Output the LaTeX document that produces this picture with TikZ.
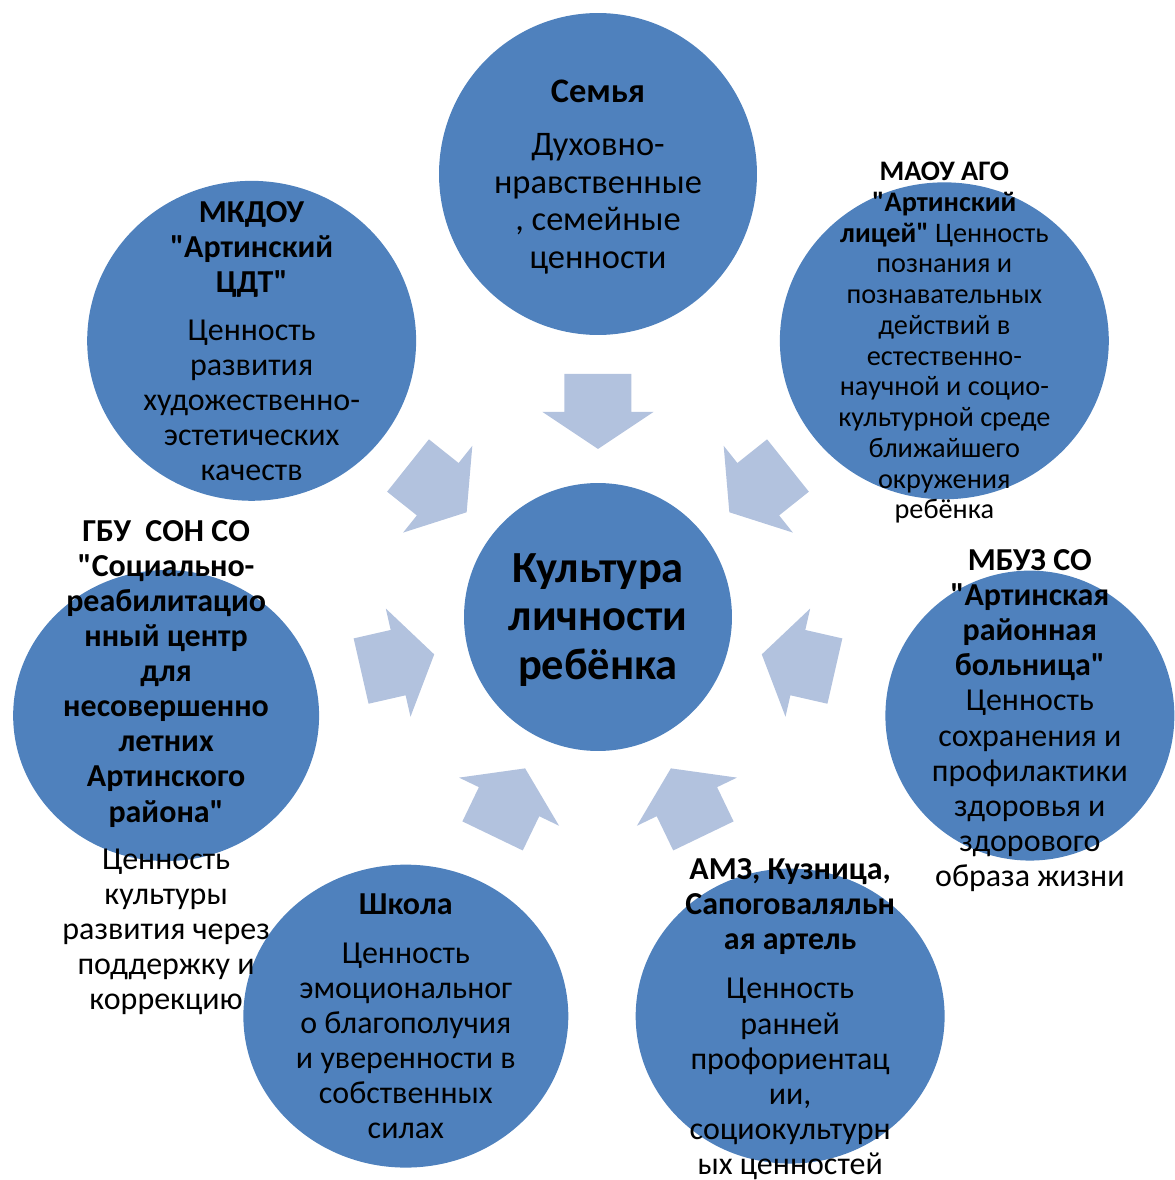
\documentclass[tikz,border=0pt]{standalone}
\usepackage{fontspec}
\setmainfont{Carlito}[Ligatures=TeXOff]
\usetikzlibrary{shapes.geometric}
\definecolor{bubblefill}{RGB}{79,129,189}
\definecolor{flowfill}{RGB}{178,194,222}
\tikzset{
  bubble/.style={ellipse, fill=bubblefill, inner sep=0pt},
  flow/.style={fill=flowfill},
  lbl/.style={align=center, inner sep=0pt, text=black},
  big/.style={font=\fontsize{18.2}{19.95}\selectfont},
}

\begin{document}
\begin{tikzpicture}[x=0.02cm, y=0.02cm]
\useasboundingbox (-598,-563) rectangle (577,617);

\foreach \a in {90, 141.43, 192.86, 244.29, 295.71, 347.14, 398.57}
  \fill[flow, rotate=\a] (243,-33.5) -- (205,-33.5) -- (205,-55.5) -- (168,0)
    -- (205,55.5) -- (205,33.5) -- (243,33.5) -- cycle;

\node[bubble, minimum width=5.36cm, minimum height=5.36cm] (core) at (0,0) {};
\node[bubble, minimum width=6.36cm, minimum height=6.44cm] (semya) at (90:443) {};
\node[bubble, minimum width=6.58cm, minimum height=6.40cm] (cdt) at (141.43:443) {};
\node[bubble, minimum width=6.12cm, minimum height=5.82cm] (centr) at (192.86:443) {};
\node[bubble, minimum width=6.50cm, minimum height=6.06cm] (shkola) at (244.29:443) {};
\node[bubble, minimum width=6.18cm, minimum height=5.90cm] (artel) at (295.71:443) {};
\node[bubble, minimum width=5.78cm, minimum height=5.80cm] (bolnica) at (347.14:443) {};
\node[bubble, minimum width=6.58cm, minimum height=6.34cm] (licej) at (38.57:443) {};

\node[lbl, font=\fontsize{25.3}{27.5}\selectfont\bfseries, yshift=-0.06cm] (coretxt) at (core)
  {Культура\\личности\\ребёнка};

\node[lbl, font=\fontsize{19.6}{21.4}\selectfont, yshift=-0.06cm] (semyatxt) at (semya)
  {\textbf{Семья}\\[9pt] Духовно-\\нравственные\\, семейные\\ценности};

\node[lbl, big] (cdttxt) at (cdt)
  {\textbf{МКДОУ}\\\textbf{"Артинский}\\\textbf{ЦДТ"}\\[7.4pt]
   Ценность\\развития\\художественно-\\эстетических\\качеств};

\node[lbl, font=\fontsize{16.1}{17.5}\selectfont, yshift=-0.04cm] (licejtxt) at (licej)
  {\textbf{МАОУ АГО}\\\textbf{"Артинский}\\\textbf{лицей"} Ценность\\познания и\\познавательных\\
   действий в\\естественно-\\научной и социо-\\культурной среде\\ближайшего\\окружения\\ребёнка};

\node[lbl, big, yshift=-0.1cm] (bolnicatxt) at (bolnica)
  {\textbf{МБУЗ СО}\\\textbf{"Артинская}\\\textbf{районная}\\\textbf{больница"}\\
   Ценность\\сохранения и\\профилактики\\здоровья и\\здорового\\образа жизни};

\node[lbl, big, yshift=-0.06cm] (arteltxt) at (artel)
  {\textbf{АМЗ, Кузница,}\\\textbf{Сапоговаляльн}\\\textbf{ая артель}\\[8pt]
   Ценность\\ранней\\профориентац\\ии,\\социокультурн\\ых ценностей};

\node[lbl, big] (shkolatxt) at (shkola)
  {\textbf{Школа}\\[8pt] Ценность\\эмоциональног\\о благополучия\\и уверенности в\\собственных\\силах};

\node[lbl, big, yshift=-1.04cm] (centrtxt) at (centr)
  {\textbf{ГБУ\ \ СОН СО}\\\textbf{"Социально-}\\\textbf{реабилитацио}\\\textbf{нный центр}\\\textbf{для}\\
   \textbf{несовершенно}\\\textbf{летних}\\\textbf{Артинского}\\\textbf{района"}\\[6.8pt]
   Ценность\\культуры\\развития через\\поддержку и\\коррекцию};
\end{tikzpicture}
\end{document}
